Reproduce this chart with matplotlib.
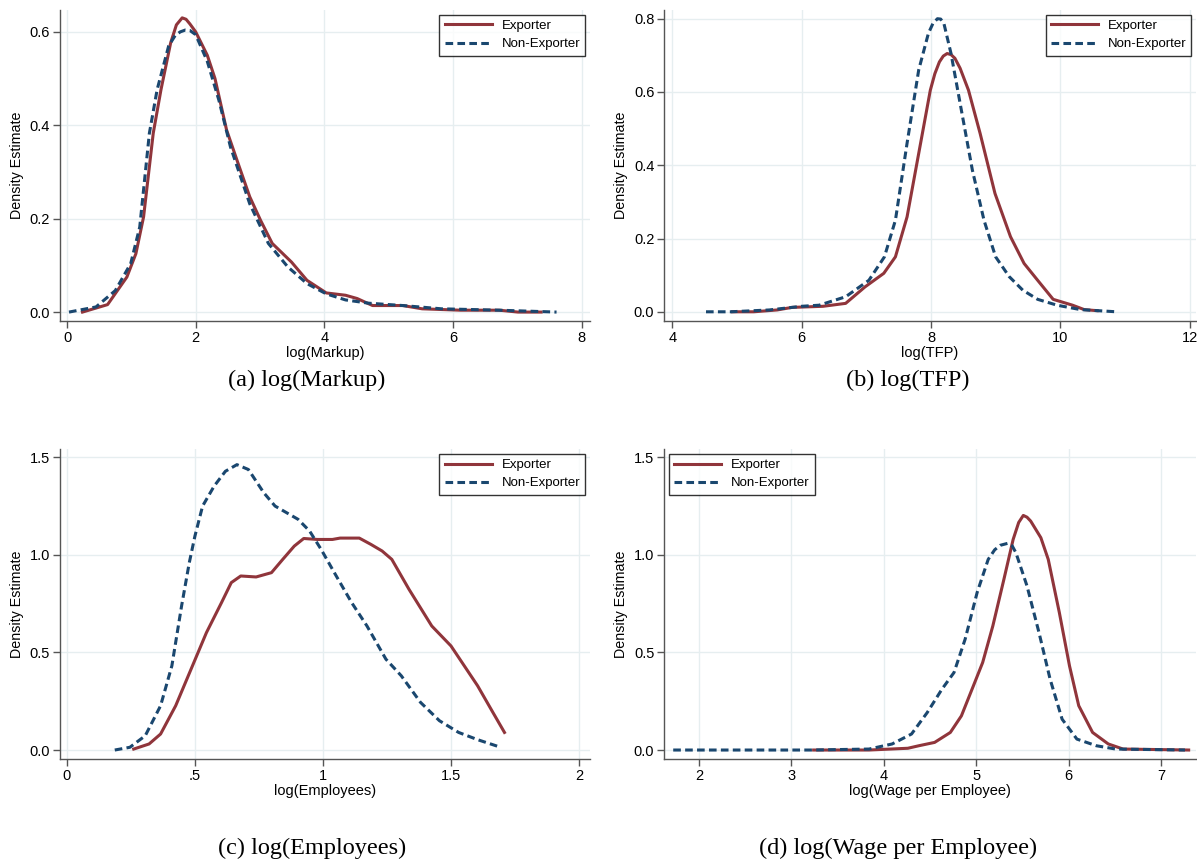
import numpy as np
import matplotlib.pyplot as plt

# panel (a) log(Markup)
mk_exp_x = [0.24, 0.63, 0.93, 1.07, 1.19, 1.34, 1.46, 1.61, 1.70, 1.79, 1.85, 1.91, 2.0, 2.18, 2.30, 2.48,
            2.66, 2.84, 3.01, 3.19, 3.49, 3.73, 4.03, 4.33, 4.51, 4.75, 5.22, 5.52, 6.12, 6.72, 7.01, 7.37]
mk_exp_y = [0.0, 0.016, 0.075, 0.125, 0.204, 0.383, 0.476, 0.576, 0.615, 0.630, 0.627, 0.617, 0.600, 0.550,
            0.500, 0.390, 0.318, 0.247, 0.196, 0.147, 0.107, 0.068, 0.041, 0.036, 0.029, 0.014, 0.014, 0.007,
            0.004, 0.004, 0.0, 0.0]
mk_non_x = [0.03, 0.45, 0.75, 0.99, 1.13, 1.28, 1.40, 1.58, 1.68, 1.76, 1.84, 1.91, 2.0, 2.18, 2.36, 2.54,
            2.84, 3.13, 3.43, 3.73, 4.03, 4.33, 4.69, 5.22, 5.82, 6.72, 7.61]
mk_non_y = [0.0, 0.011, 0.046, 0.104, 0.182, 0.383, 0.476, 0.570, 0.592, 0.600, 0.604, 0.603, 0.594, 0.537,
            0.454, 0.354, 0.232, 0.147, 0.097, 0.061, 0.039, 0.026, 0.019, 0.014, 0.007, 0.004, 0.0]

# panel (b) log(TFP)
tfp_exp_x = [4.93, 5.26, 5.62, 5.85, 6.33, 6.68, 6.98, 7.27, 7.45, 7.63, 7.81, 7.99, 8.06, 8.13, 8.19, 8.25,
             8.31, 8.37, 8.45, 8.58, 8.76, 8.99, 9.23, 9.44, 9.65, 9.89, 10.19, 10.37, 10.57]
tfp_exp_y = [0.0, 0.0, 0.005, 0.012, 0.015, 0.023, 0.068, 0.105, 0.150, 0.259, 0.432, 0.605, 0.650, 0.682,
             0.698, 0.705, 0.702, 0.692, 0.665, 0.605, 0.487, 0.323, 0.205, 0.132, 0.086, 0.034, 0.018, 0.006,
             0.003]
tfp_non_x = [4.52, 4.90, 5.50, 6.0, 6.27, 6.68, 7.04, 7.28, 7.45, 7.63, 7.81, 7.96, 8.03, 8.10, 8.15, 8.20,
             8.31, 8.46, 8.64, 8.82, 9.0, 9.21, 9.42, 9.65, 9.95, 10.31, 10.87]
tfp_non_y = [0.0, 0.0, 0.005, 0.015, 0.018, 0.041, 0.086, 0.150, 0.250, 0.460, 0.660, 0.760, 0.787, 0.800,
             0.799, 0.787, 0.705, 0.560, 0.387, 0.250, 0.150, 0.096, 0.059, 0.034, 0.018, 0.006, 0.0]

# panel (c) log(Employees)
emp_exp_x = [0.261, 0.321, 0.366, 0.425, 0.485, 0.545, 0.604, 0.642, 0.679, 0.739, 0.799, 0.843, 0.888,
             0.925, 0.978, 1.037, 1.067, 1.142, 1.187, 1.231, 1.269, 1.336, 1.425, 1.5, 1.604, 1.664, 1.709]
emp_exp_y = [0.005, 0.031, 0.082, 0.227, 0.414, 0.601, 0.755, 0.857, 0.891, 0.886, 0.908, 0.976, 1.044,
             1.083, 1.078, 1.078, 1.085, 1.085, 1.053, 1.019, 0.976, 0.823, 0.635, 0.533, 0.329, 0.192, 0.090]
emp_non_x = [0.187, 0.246, 0.306, 0.366, 0.410, 0.448, 0.478, 0.5, 0.530, 0.575, 0.619, 0.664, 0.709, 0.769,
             0.813, 0.903, 0.948, 0.993, 1.052, 1.112, 1.172, 1.246, 1.306, 1.381, 1.455, 1.530, 1.604, 1.694]
emp_non_y = [0.0, 0.014, 0.073, 0.227, 0.431, 0.738, 0.959, 1.095, 1.249, 1.351, 1.427, 1.461, 1.436, 1.317,
             1.249, 1.181, 1.121, 1.027, 0.891, 0.755, 0.635, 0.465, 0.380, 0.244, 0.150, 0.090, 0.053, 0.014]

# panel (d) log(Wage per Employee)
wage_exp_x = [3.24, 3.84, 4.26, 4.38, 4.55, 4.72, 4.84, 4.97, 5.07, 5.18, 5.30, 5.40, 5.46, 5.51, 5.55, 5.59,
              5.70, 5.78, 5.90, 6.01, 6.11, 6.26, 6.43, 6.59, 7.30]
wage_exp_y = [0.0, 0.0, 0.009, 0.022, 0.039, 0.090, 0.175, 0.329, 0.448, 0.635, 0.874, 1.078, 1.165, 1.201,
              1.192, 1.172, 1.087, 0.976, 0.704, 0.431, 0.227, 0.090, 0.031, 0.005, 0.0]
wage_non_x = [1.72, 3.22, 3.84, 4.09, 4.30, 4.47, 4.63, 4.76, 4.88, 5.01, 5.13, 5.20, 5.26, 5.34, 5.39, 5.43,
              5.55, 5.68, 5.80, 5.93, 6.09, 6.30, 6.51, 7.26]
wage_non_y = [0.0, 0.0, 0.005, 0.031, 0.082, 0.192, 0.312, 0.397, 0.567, 0.806, 0.976, 1.025, 1.048, 1.058,
              1.045, 1.010, 0.840, 0.601, 0.363, 0.158, 0.056, 0.022, 0.005, 0.0]

red = '#90353B'
navy = '#1A476F'
gridc = '#E6EEF0'

plt.rcParams['font.family'] = ['Liberation Sans', 'DejaVu Sans']

fig = plt.figure(figsize=(11.97, 8.63), dpi=100)

panels = [
    # rect, data, xlim, xticks, xticklabels, ylim, yticks, xlabel, caption, legend loc, caption pos
    ([0.0501, 0.6281, 0.4428, 0.3604], (mk_exp_x, mk_exp_y, mk_non_x, mk_non_y), (-0.11, 8.13),
     [0, 2, 4, 6, 8], ['0', '2', '4', '6', '8'], (-0.019, 0.647), [0.0, 0.2, 0.4, 0.6],
     'log(Markup)', '(a) log(Markup)', 'upper right', (0.256, 0.5597)),
    ([0.5547, 0.6281, 0.4445, 0.3604], (tfp_exp_x, tfp_exp_y, tfp_non_x, tfp_non_y), (3.87, 12.1),
     [4, 6, 8, 10, 12], ['4', '6', '8', '10', '12'], (-0.025, 0.824), [0.0, 0.2, 0.4, 0.6, 0.8],
     'log(TFP)', '(b) log(TFP)', 'upper right', (0.758, 0.5597)),
    ([0.0501, 0.1205, 0.4428, 0.3592], (emp_exp_x, emp_exp_y, emp_non_x, emp_non_y), (-0.027, 2.043),
     [0, 0.5, 1, 1.5, 2], ['0', '.5', '1', '1.5', '2'], (-0.046, 1.541), [0.0, 0.5, 1.0, 1.5],
     'log(Employees)', '(c) log(Employees)', 'upper right', (0.261, 0.0174)),
    ([0.5547, 0.1205, 0.4445, 0.3592], (wage_exp_x, wage_exp_y, wage_non_x, wage_non_y), (1.62, 7.38),
     [2, 3, 4, 5, 6, 7], ['2', '3', '4', '5', '6', '7'], (-0.046, 1.541), [0.0, 0.5, 1.0, 1.5],
     'log(Wage per Employee)', '(d) log(Wage per Employee)', 'upper left', (0.750, 0.0174)),
]

for rect, d, xlim, xt, xtl, ylim, yt, xlab, cap, loc, cpos in panels:
    ax = fig.add_axes(rect)
    ax.plot(d[0], d[1], color=red, lw=2.2, label='Exporter', solid_joinstyle='round')
    ax.plot(d[2], d[3], color=navy, lw=2.2, ls=(0, (2.5, 1.4)), label='Non-Exporter')
    ax.set_xlim(xlim)
    ax.set_ylim(ylim)
    ax.set_xticks(xt)
    ax.set_xticklabels(xtl)
    ax.set_yticks(yt)
    ax.set_yticklabels(['%.1f' % v for v in yt])
    ax.grid(True, color=gridc, lw=1.0)
    ax.set_axisbelow(True)
    for s in ['top', 'right']:
        ax.spines[s].set_visible(False)
    for s in ['left', 'bottom']:
        ax.spines[s].set_color('#555555')
        ax.spines[s].set_linewidth(1.0)
    ax.tick_params(direction='out', length=5, width=1.0, color='#555555', labelsize=10.5, pad=2)
    ax.set_xlabel(xlab, fontsize=10.5, labelpad=1)
    ax.set_ylabel('Density Estimate', fontsize=10.3, labelpad=4)
    leg = ax.legend(loc=loc, fontsize=9.5, frameon=True, fancybox=False, handlelength=3.6,
                    borderaxespad=0.35, borderpad=0.4, labelspacing=0.45, handletextpad=0.7)
    leg.get_frame().set_edgecolor('black')
    leg.get_frame().set_linewidth(1.0)
    # caption below each panel
    fig.text(cpos[0], cpos[1], cap, ha='center', va='center',
             fontsize=17.5, family=['Liberation Serif', 'DejaVu Serif'])

fig.savefig('out.png', dpi=100)
